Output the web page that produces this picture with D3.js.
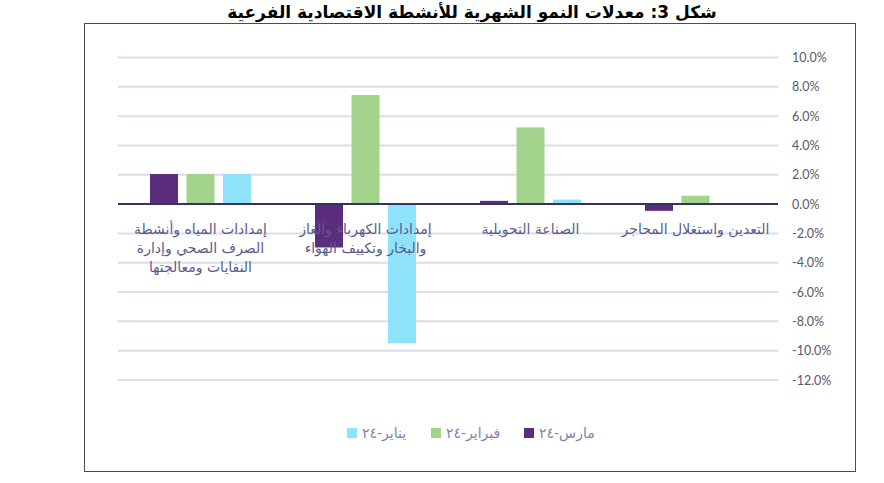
<!DOCTYPE html>
<html>
<head>
<meta charset="utf-8">
<script src="https://cdn.jsdelivr.net/npm/d3@7"></script>
<style>
  body { margin: 0; background: #fff; }
  svg { display: block; }
</style>
</head>
<body>
<div id="chart"></div>
<script>
// Chart data (categories listed right to left, as drawn)
var categories = ["mining", "manufacturing", "electricity", "water"];
var categoryLines = [
  ["التعدين واستغلال المحاجر"],
  ["الصناعة التحويلية"],
  ["إمدادات الكهرباء والغاز", "والبخار وتكييف الهواء"],
  ["إمدادات المياه وأنشطة", "الصرف الصحي وإدارة", "النفايات ومعالجتها"]
];
var seriesNames = ["مارس-٢٤", "فبراير-٢٤", "يناير-٢٤"];
var marchValues = [-0.46, 0.22, -2.96, 2.05];
var febValues = [0.57, 5.23, 7.44, 2.05];
var janValues = [0.05, 0.31, -9.5, 2.05];
var yTicks = [-12, -10, -8, -6, -4, -2, 0, 2, 4, 6, 8, 10];
var titleText = "شكل 3: معدلات النمو الشهرية للأنشطة الاقتصادية الفرعية";

var seriesColors = ["#5c2d7c", "#a4d48c", "#8ee3fa"];
var seriesValues = [marchValues, febValues, janValues];

// SVG area
var svg_Width = 884;
var svg_Height = 483;

var plot = { left: 118, right: 778, top: 57.5, bottom: 380 };

var svg = d3.select("#chart")
  .append("svg")
  .attr("width", svg_Width)
  .attr("height", svg_Height);

// Frame around the chart
svg.append("rect")
  .attr("x", 84.5)
  .attr("y", 23.5)
  .attr("width", 771)
  .attr("height", 448)
  .attr("fill", "none")
  .attr("stroke", "#4d4d4d")
  .attr("stroke-width", 1);

// Title
svg.append("text")
  .attr("x", 472)
  .attr("y", 18)
  .attr("text-anchor", "middle")
  .attr("direction", "rtl")
  .style("font-family", "DejaVu Sans")
  .style("font-weight", "bold")
  .style("font-size", "17px")
  .attr("fill", "#000")
  .text(titleText);

// Scales
var x0 = d3.scaleBand()
  .domain(categories)
  .range([plot.right, plot.left])
  .padding(0);

var half = 50.5;
var x1 = d3.scaleBand()
  .domain(seriesNames)
  .range([x0.bandwidth() / 2 - half, x0.bandwidth() / 2 + half])
  .paddingInner(0.233);

var y = d3.scaleLinear()
  .domain([-12, 10])
  .range([plot.bottom, plot.top]);

// Gridlines
svg.append("g")
  .selectAll("line")
  .data(yTicks.filter(d => d !== 0))
  .enter()
  .append("line")
  .attr("x1", plot.left)
  .attr("x2", plot.right)
  .attr("y1", d => y(d))
  .attr("y2", d => y(d))
  .attr("stroke", "#dcdcee")
  .attr("stroke-width", 2);

// Y axis on the right (plain hyphen for negatives, like the original)
var right_Axis = d3.axisRight(y)
  .tickValues(yTicks)
  .tickSize(0)
  .tickPadding(14)
  .tickFormat(d => (d < 0 ? "-" : "") + Math.abs(d).toFixed(1) + "%");

var yAxisG = svg.append("g")
  .attr("transform", `translate(${plot.right}, 0)`)
  .call(right_Axis);
yAxisG.select(".domain").remove();
yAxisG.selectAll("text")
  .style("font-family", "Lato")
  .style("font-size", "12.5px")
  .attr("fill", "#58586f");

// Bars
var rows = categories.map((c, i) => ({ cat: c, vals: seriesNames.map((s, j) => ({ s: s, v: seriesValues[j][i], color: seriesColors[j] })) }));

var groups = svg.append("g")
  .selectAll("g")
  .data(rows)
  .enter()
  .append("g")
  .attr("transform", d => `translate(${x0(d.cat)}, 0)`);

groups.selectAll("rect")
  .data(d => d.vals)
  .enter()
  .append("rect")
  .attr("x", d => x1(d.s))
  .attr("width", x1.bandwidth())
  .attr("y", d => Math.min(y(d.v), y(0)))
  .attr("height", d => Math.abs(y(d.v) - y(0)))
  .attr("fill", d => d.color);

// Zero line
svg.append("line")
  .attr("x1", plot.left)
  .attr("x2", plot.right)
  .attr("y1", y(0))
  .attr("y2", y(0))
  .attr("stroke", "#33335c")
  .attr("stroke-width", 2);

// Category labels (drawn above bars)
var labelG = svg.append("g");
categories.forEach(function(c, i) {
  var t = labelG.append("text")
    .attr("text-anchor", "middle")
    .attr("direction", "rtl")
    .style("font-family", "DejaVu Sans")
    .style("font-size", "14px")
    .attr("fill", "#5b5b8c");
  categoryLines[i].forEach(function(line, k) {
    t.append("tspan")
      .attr("x", x0(c) + x0.bandwidth() / 2)
      .attr("y", 234 + k * 19)
      .text(line);
  });
});

// Legend
var legendX = [347, 431, 524];
var legendOrder = [2, 1, 0];
var legend = svg.append("g");
legendOrder.forEach(function(j, k) {
  legend.append("rect")
    .attr("x", legendX[k])
    .attr("y", 428)
    .attr("width", 10)
    .attr("height", 10)
    .attr("fill", seriesColors[j]);
  legend.append("text")
    .attr("x", legendX[k] + 15)
    .attr("y", 438)
    .attr("text-anchor", "start")
    .style("font-family", "DejaVu Sans")
    .style("font-size", "14px")
    .attr("fill", "#7f7fb2")
    .text(seriesNames[j]);
});
</script>
</body>
</html>
